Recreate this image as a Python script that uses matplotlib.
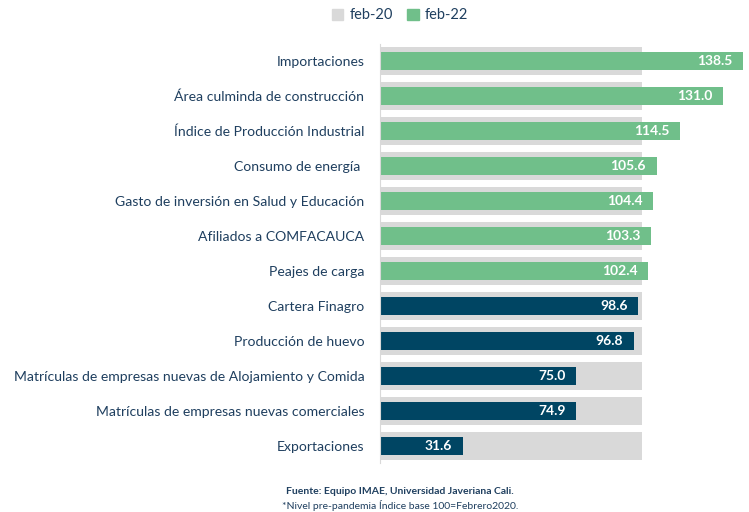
import numpy as np
import matplotlib.pyplot as plt
from matplotlib.patches import Patch

plt.rcParams['font.family'] = ['Lato', 'DejaVu Sans']

categories = ["Importaciones", "Área culminda de construcción", "Índice de Producción Industrial",
              "Consumo de energía ", "Gasto de inversión en Salud y Educación", "Afiliados a COMFACAUCA",
              "Peajes de carga", "Cartera Finagro", "Producción de huevo",
              "Matrículas de empresas nuevas de Alojamiento y Comida",
              "Matrículas de empresas nuevas comerciales", "Exportaciones"]
feb20 = [100, 100, 100, 100, 100, 100, 100, 100, 100, 100, 100, 100]
feb22 = [138.5, 131.0, 114.5, 105.6, 104.4, 103.3, 102.4, 98.6, 96.8, 75.0, 74.9, 31.6]

green = "#70BF8A"
navy = "#004563"
gray = "#D9D9D9"
txt = "#1F3F5F"

fig = plt.figure(figsize=(7.49, 5.12), dpi=100)
ax = fig.add_axes([0.507, 0.095, 0.49, 0.82])

y = np.arange(len(categories))
colors = [green if v > 100 else navy for v in feb22]
ax.barh(y, feb20, height=0.8, color=gray, zorder=1)
ax.barh(y, feb22, height=0.52, color=colors, zorder=2)

# etiquetas de valor dentro de la barra
for yi, v in zip(y, feb22):
    ax.text(v - 4, yi, f"{v:.1f}", ha='right', va='center', color='white',
            fontsize=10, fontweight='bold', zorder=3)

ax.set_yticks(y)
ax.set_yticklabels(categories, fontsize=10.1, color=txt)
ax.tick_params(axis='y', length=0, pad=11)
ax.set_ylim(len(categories) - 0.5, -0.5)
ax.set_xlim(0, 140)
ax.set_xticks([])
for s in ['top', 'right', 'bottom']:
    ax.spines[s].set_visible(False)
ax.spines['left'].set_color('#D9D9D9')

handles = [Patch(color=gray, label='feb-20'), Patch(color=green, label='feb-22')]
fig.legend(handles=handles, loc='center', bbox_to_anchor=(0.534, 0.97), ncol=2, frameon=False,
           fontsize=10.5, labelcolor=txt, handlelength=0.8, handleheight=0.8,
           handletextpad=0.4, columnspacing=1.0)

fig.text(0.534, 0.041, "Fuente: Equipo IMAE, Universidad Javeriana Cali.", ha='center', va='center',
         fontsize=7.5, fontweight='bold', color=txt)
fig.text(0.534, 0.012, "*Nivel pre-pandemia Índice base 100=Febrero2020.", ha='center', va='center',
         fontsize=7.5, color=txt)

fig.savefig("out.png", dpi=100)
